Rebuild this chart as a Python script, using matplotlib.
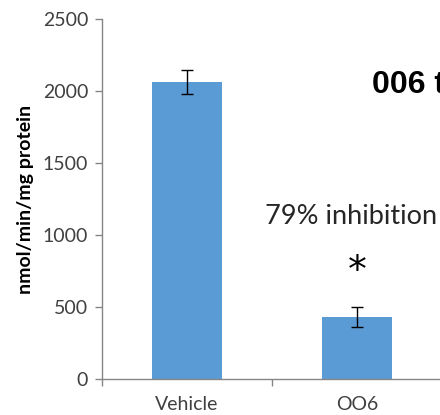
import matplotlib
matplotlib.use("Agg")
import matplotlib.pyplot as plt

categories = ["Vehicle", "OO6"]
activity = [2065, 430]
errors = [85, 72]
yticks = [0, 500, 1000, 1500, 2000, 2500]

bar_color = "#5B9BD5"
axis_color = "#868686"

fig = plt.figure(figsize=(4.4, 4.15), dpi=100)
ax = fig.add_axes([0.232, 0.0867, 0.773, 0.867])

x = list(range(len(categories)))
ax.bar(x, activity, width=0.41, color=bar_color, zorder=2)
ax.errorbar(x, activity, yerr=errors, fmt="none", ecolor="black",
            elinewidth=1.0, capsize=4, capthick=1.0, zorder=3)

ax.set_xlim(-0.5, 1.5)
ax.set_ylim(0, 2500)
ax.set_yticks(yticks)
ax.set_yticklabels([str(v) for v in yticks], fontfamily="Lato", fontsize=14,
                   color="#404040")
ax.set_xticks(x)
ax.set_xticklabels(categories, fontfamily="Lato", fontsize=14, color="#404040")
ax.set_xticks([-0.5, 0.5, 1.5], minor=True)
ax.tick_params(axis="x", which="major", length=0, pad=12)
ax.tick_params(axis="x", which="minor", length=5, color=axis_color, width=1)
ax.tick_params(axis="y", length=5, color=axis_color, width=1, pad=5)

for side in ("top", "right"):
    ax.spines[side].set_visible(False)
for side in ("left", "bottom"):
    ax.spines[side].set_color(axis_color)
    ax.spines[side].set_linewidth(1)
ax.spines["bottom"].set_clip_on(False)

ax.set_ylabel("nmol/min/mg protein", fontfamily="Lato", fontweight="bold",
              fontsize=14, color="black", labelpad=6)

fig.text(372 / 440, 1 - 93 / 415, "006 t", fontfamily="Liberation Sans",
         fontweight="bold", fontsize=23, color="black", ha="left", va="baseline")
fig.text(265 / 440, 1 - 224 / 415, "79% inhibition", fontfamily="Lato",
         fontsize=19.5, color="#262626", ha="left", va="baseline")
ax.text(1, 430 + 72 + 240, "*", fontfamily="DejaVu Sans", fontsize=27,
        color="black", ha="center", va="center")

fig.savefig("out.png", dpi=100)
